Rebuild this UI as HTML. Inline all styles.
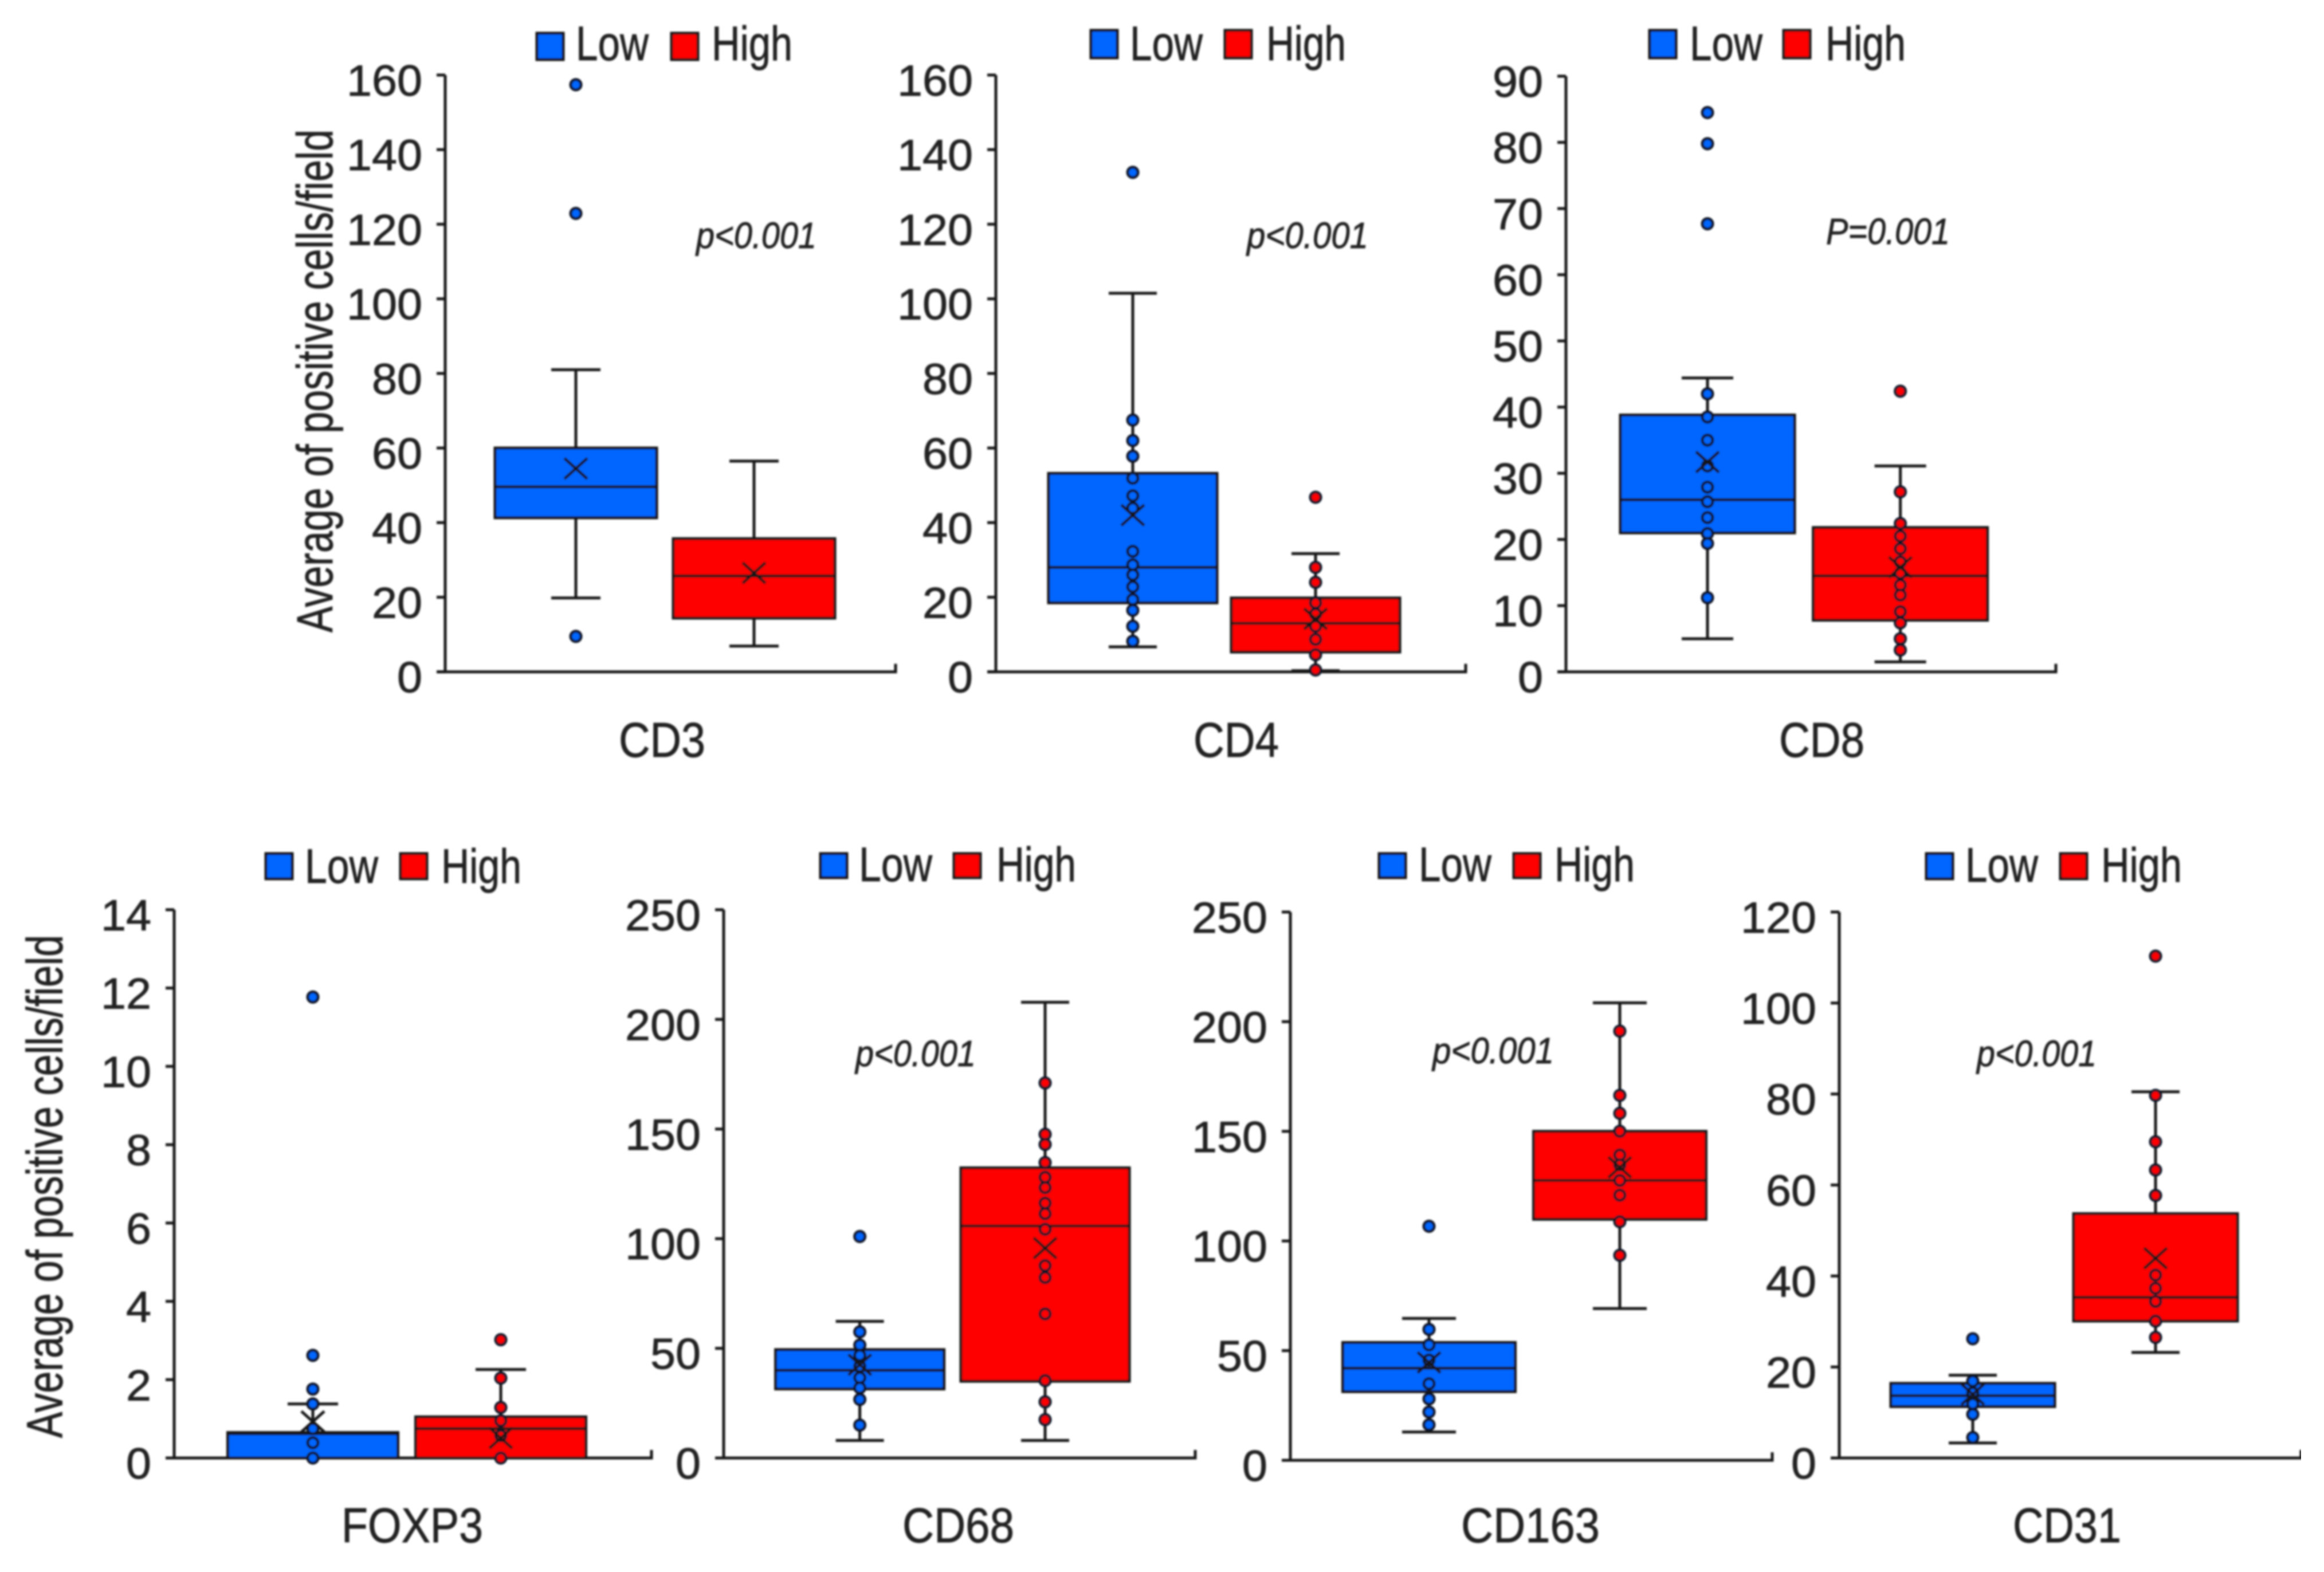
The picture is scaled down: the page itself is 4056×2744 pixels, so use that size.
<!DOCTYPE html>
<html lang="en">
<head>
<meta charset="utf-8">
<title>Positive cells per field by group</title>
<style>
html,body{margin:0;padding:0;background:#fff;}
svg{display:block;}
text{font-family:"Liberation Sans",sans-serif;fill:#222;stroke:#222;stroke-width:0.9px;}
</style>
</head>
<body>
<svg id="figure" xmlns="http://www.w3.org/2000/svg" width="4056" height="2744" viewBox="0 0 4056 2744">
  <defs><filter id="soft" x="0" y="0" width="100%" height="100%"><feGaussianBlur stdDeviation="1.5"/></filter></defs>
  <rect x="0" y="0" width="4056" height="2744" fill="#fff"/>
  <g id="root" filter="url(#soft)"></g>
</svg>
<script>
// Box stats order: whisker low, Q1, median, Q3, whisker high, mean
const cd3Ticks = [0,20,40,60,80,100,120,140,160];
const cd3LowBox = [19.8,41.3,49.6,60,81,54.5];
const cd3LowPoints = [157.4,122.9,9.5];
const cd3HighBox = [6.9,14.4,25.7,35.7,56.5,26.5];
const cd3HighPoints = [];

const cd4Ticks = [0,20,40,60,80,100,120,140,160];
const cd4LowBox = [6.7,18.5,28,53.2,101.5,42];
const cd4LowPoints = [133.9,67.5,62,57.8,51.9,47.2,43.9,32.3,28.7,26,22.8,19.4,16.5,12.2,8.2];
const cd4HighBox = [0.3,5.3,13,19.8,31.7,14.2];
const cd4HighPoints = [46.8,28,24,18.5,15.5,12.2,8.7,4.6,0.5];

const cd8Ticks = [0,10,20,30,40,50,60,70,80,90];
const cd8LowBox = [5,21,26,38.8,44.4,31.7];
const cd8LowPoints = [84.5,79.8,67.7,42,38.5,35,31.1,27.9,25.7,23.3,20.9,19.4,11.2];
const cd8HighBox = [1.5,7.8,14.5,21.8,31.1,15.8];
const cd8HighPoints = [42.4,27.2,22.4,20.5,18.6,16.6,14.9,13.1,11.6,9.1,7.4,5,3.3];

const foxp3Ticks = [0,2,4,6,8,10,12,14];
const foxp3LowBox = [0,0,0.62,0.65,1.38,0.93];
const foxp3LowPoints = [11.77,2.62,1.76,1.38,0.75,0.39,0];
const foxp3HighBox = [0,0,0.75,1.05,2.26,0.51];
const foxp3HighPoints = [3.02,2.04,1.29,0.95,0.57,0];

const cd68Ticks = [0,50,100,150,200,250];
const cd68LowBox = [8,31.5,40,49.4,62.3,42.5];
const cd68LowPoints = [101,57.5,51.5,46.8,41.8,36.6,32,26.7,15];
const cd68HighBox = [8,35,105.8,132.3,207.8,95.7];
const cd68HighPoints = [171,147.6,143,134.7,128,123.3,116.2,111.4,104.3,87.7,82.3,65.7,35.3,25.6,17.5];

const cd163Ticks = [0,50,100,150,200,250];
const cd163LowBox = [12.9,31.3,42,53.7,64.7,44.6];
const cd163LowPoints = [106.7,59.7,52.6,45.7,34.9,28,22,16.2];
const cd163HighBox = [69.2,109.9,127.6,150,208.6,133.6];
const cd163HighPoints = [195.7,166.4,158.2,150,139.2,134.7,127.6,120.9,108.8,93.5];

const cd31Ticks = [0,20,40,60,80,100,120];
const cd31LowBox = [3.3,11.3,13.7,16.4,18.2,14];
const cd31LowPoints = [26.2,16.9,14.3,11.9,9.6,4.5];
const cd31HighBox = [23.2,30.1,35.3,53.7,80.5,43.9];
const cd31HighPoints = [110.3,79.7,69.5,63.3,57.7,40.2,37.3,34.4,30.1,26.5];

const seriesNames = ['Low','High'];
const seriesFill = ['#0066ff','#ff0000'];
const yTitleText = 'Average of positive cells/field';

const panels = [
 {name:'CD3', ticks:cd3Ticks, low:cd3LowBox, lowPts:cd3LowPoints, high:cd3HighBox, highPts:cd3HighPoints, p:'p<0.001',
  frame:{left:777,right:1563,top:131,bottom:1172.7,pad:72.5,step:311,boxW:282,cap:43},
  legend:{y:58,h:46,s1:937,t1:1005,t1w:127,s2:1172,t2:1242,t2w:141,base:105},
  xl:{x:1080,w:151,base:1321}, pt:{x:1215,w:210,base:433}, yTitle:{x:580,y:1104}},
 {name:'CD4', ticks:cd4Ticks, low:cd4LowBox, lowPts:cd4LowPoints, high:cd4HighBox, highPts:cd4HighPoints, p:'p<0.001',
  frame:{left:1738,right:2558,top:131,bottom:1172.7,pad:79.5,step:319,boxW:294,cap:42},
  legend:{y:53,h:48,s1:1904,t1:1972,t1w:127,s2:2138,t2:2210,t2w:139,base:105},
  xl:{x:2083,w:149,base:1321}, pt:{x:2176,w:212,base:433}},
 {name:'CD8', ticks:cd8Ticks, low:cd8LowBox, lowPts:cd8LowPoints, high:cd8HighBox, highPts:cd8HighPoints, p:'P=0.001',
  frame:{left:2733,right:3588,top:133,bottom:1172.7,pad:78.7,step:336.6,boxW:304,cap:45},
  legend:{y:53,h:48,s1:2879,t1:2949,t1w:127,s2:3113,t2:3186,t2w:140,base:105},
  xl:{x:3105,w:149,base:1321}, pt:{x:3187,w:216,base:426}},
 {name:'FOXP3', ticks:foxp3Ticks, low:foxp3LowBox, lowPts:foxp3LowPoints, high:foxp3HighBox, highPts:foxp3HighPoints, p:'',
  frame:{left:304,right:1137,top:1588,bottom:2545,pad:78,step:328,boxW:297,cap:44},
  legend:{y:1490,h:44,s1:464,t1:532,t1w:128,s2:699,t2:770,t2w:140,base:1541},
  xl:{x:596,w:247,base:2692}, yTitle:{x:108.5,y:2510}},
 {name:'CD68', ticks:cd68Ticks, low:cd68LowBox, lowPts:cd68LowPoints, high:cd68HighBox, highPts:cd68HighPoints, p:'p<0.001',
  frame:{left:1263,right:2086,top:1588,bottom:2545,pad:75.9,step:323.4,boxW:294,cap:42},
  legend:{y:1490,h:42,s1:1432,t1:1499,t1w:128,s2:1665,t2:1739,t2w:139,base:1538},
  xl:{x:1575,w:195,base:2692}, pt:{x:1493,w:210,base:1861}},
 {name:'CD163', ticks:cd163Ticks, low:cd163LowBox, lowPts:cd163LowPoints, high:cd163HighBox, highPts:cd163HighPoints, p:'p<0.001',
  frame:{left:2252,right:3093,top:1592,bottom:2549,pad:75.5,step:333,boxW:301,cap:47},
  legend:{y:1490,h:42,s1:2407,t1:2476,t1w:127,s2:2642,t2:2713,t2w:140,base:1538},
  xl:{x:2550,w:242,base:2692}, pt:{x:2500,w:212,base:1856}},
 {name:'CD31', ticks:cd31Ticks, low:cd31LowBox, lowPts:cd31LowPoints, high:cd31HighBox, highPts:cd31HighPoints, p:'p<0.001',
  frame:{left:3210,right:4016,top:1592,bottom:2545,pad:73.5,step:319,boxW:286,cap:42},
  legend:{y:1490,h:44,s1:3362,t1:3430,t1w:127,s2:3596,t2:3667,t2w:141,base:1539},
  xl:{x:3513,w:189,base:2692}, pt:{x:3450,w:209,base:1861}}
];

const NS = 'http://www.w3.org/2000/svg';
const INK = '#151515';
const SW = 5;

function make(tag, parent, attrs){
  const el = document.createElementNS(NS, tag);
  for (const k in attrs) el.setAttribute(k, attrs[k]);
  parent.appendChild(el);
  return el;
}

function line(parent, x1, y1, x2, y2, width){
  return make('line', parent, {x1:x1, y1:y1, x2:x2, y2:y2, stroke:INK, 'stroke-width':width || SW});
}

function drawSeries(group, i, stats, pts, f, xScale, yScale){
  const cx = xScale(i);
  const yLo = yScale(stats[0]), yQ1 = yScale(stats[1]), yMed = yScale(stats[2]);
  const yQ3 = yScale(stats[3]), yHi = yScale(stats[4]), yMean = yScale(stats[5]);

  const wL = line(group, cx, yQ1, cx, yLo);
  
  
  const wH = line(group, cx, yQ3, cx, yHi);
  
  
  const cL = line(group, cx - f.cap, yLo, cx + f.cap, yLo);
  
  
  const cH = line(group, cx - f.cap, yHi, cx + f.cap, yHi);
  
  

  const box = make('rect', group, {x:cx - f.boxW/2, y:yQ3, width:f.boxW, height:Math.max(0, yQ1 - yQ3), fill:seriesFill[i], stroke:INK, 'stroke-width':SW});
  
  

  const med = line(group, cx - f.boxW/2, yMed, cx + f.boxW/2, yMed);
  
  

  pts.forEach(function(v){
    const dot = make('circle', group, {cx:cx, cy:yScale(v), r:9, fill:seriesFill[i], stroke:'#0c1428', 'stroke-width':5});
    
    
  });

  const mean = make('path', group, {d:'M'+(cx-20)+' '+(yMean-18)+'L'+(cx+20)+' '+(yMean+18)+'M'+(cx-20)+' '+(yMean+18)+'L'+(cx+20)+' '+(yMean-18), stroke:INK, 'stroke-width':SW, fill:'none'});
  
  
}

const root = document.getElementById('root');

panels.forEach(function(pn){
  const f = pn.frame;
  const yMax = pn.ticks[pn.ticks.length - 1];
  const yScale = function(v){ return f.bottom - (v / yMax) * (f.bottom - f.top); };
  const xScale = function(i){ return f.left + f.pad + (i + 0.5) * f.step; };

  const g = make('g', root, {});
  
  

  const yAxis = line(g, f.left, f.top, f.left, f.bottom);
  
  
  const xAxis = make('path', g, {d:'M'+(f.left-15)+' '+f.bottom+'H'+f.right+'V'+(f.bottom-14), fill:'none', stroke:INK, 'stroke-width':SW});
  
  

  pn.ticks.forEach(function(t){
    const y = yScale(t);
    const tick = line(g, f.left - 15, y, f.left, y);
    
    
    const s = String(t);
    const lab = make('text', g, {x:f.left - 40, y:y + 36, 'font-size':76, 'text-anchor':'end', textLength:s.length * 44, lengthAdjust:'spacingAndGlyphs'});
    lab.textContent = s;
    
    
  });

  drawSeries(g, 0, pn.low, pn.lowPts, f, xScale, yScale);
  drawSeries(g, 1, pn.high, pn.highPts, f, xScale, yScale);

  const L = pn.legend;
  const sw1 = make('rect', g, {x:L.s1, y:L.y, width:46, height:L.h, fill:seriesFill[0], stroke:INK, 'stroke-width':SW});
  
  
  const t1 = make('text', g, {x:L.t1, y:L.base, 'font-size':84, textLength:L.t1w, lengthAdjust:'spacingAndGlyphs'});
  t1.textContent = seriesNames[0];
  
  
  const sw2 = make('rect', g, {x:L.s2, y:L.y, width:46, height:L.h, fill:seriesFill[1], stroke:INK, 'stroke-width':SW});
  
  
  const t2 = make('text', g, {x:L.t2, y:L.base, 'font-size':84, textLength:L.t2w, lengthAdjust:'spacingAndGlyphs'});
  t2.textContent = seriesNames[1];
  
  

  const xl = make('text', g, {x:pn.xl.x, y:pn.xl.base, 'font-size':85, textLength:pn.xl.w, lengthAdjust:'spacingAndGlyphs'});
  xl.textContent = pn.name;
  
  

  if (pn.p) {
    const pv = make('text', g, {x:pn.pt.x, y:pn.pt.base, 'font-size':64, 'font-style':'italic', textLength:pn.pt.w, lengthAdjust:'spacingAndGlyphs'});
    pv.textContent = pn.p;
    
    
  }

  if (pn.yTitle) {
    const yt = make('text', g, {x:0, y:0, 'font-size':88, textLength:878, lengthAdjust:'spacingAndGlyphs', transform:'translate('+pn.yTitle.x+' '+pn.yTitle.y+') rotate(-90)'});
    yt.textContent = yTitleText;
    
    
  }
});
</script>
</body>
</html>
